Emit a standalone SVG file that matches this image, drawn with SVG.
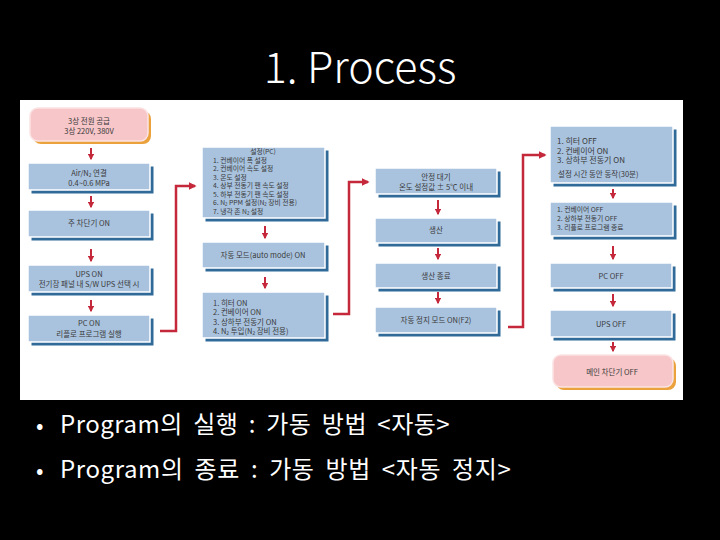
<svg xmlns="http://www.w3.org/2000/svg" width="720" height="540" viewBox="0 0 720 540">
<style>
.bx{fill:#a9c3df;stroke:#ffffff;stroke-width:1.5}
.sh{fill:#2f6a99}
.pk{fill:#f7c6c9;stroke:#fbe3e4;stroke-width:1.5}
.psh{fill:#eba23c}
.t{font-family:"Noto Sans CJK KR","Noto Sans",sans-serif;font-size:7.5px;fill:#3a3a3a}
.s{font-size:6.8px}
.c{text-anchor:middle}
.t2{font-family:"Noto Sans CJK KR","Noto Sans",sans-serif;font-size:8px;fill:#3a3a3a}
.ar{stroke:#c4283a;stroke-width:2;fill:none}
.rl{stroke:#c4283a;stroke-width:2.5;fill:none}
.big{font-family:"Noto Sans CJK KR","Noto Sans",sans-serif;fill:#ffffff}
</style>
<defs>
<marker id="ah" viewBox="0 0 10 10" refX="8" refY="5" markerWidth="3.2" markerHeight="3.2" orient="auto" markerUnits="strokeWidth">
<path d="M0,0 L10,5 L0,10 z" fill="#c4283a"/>
</marker>
</defs>
<rect x="0" y="0" width="720" height="540" fill="#000000"/>
<text class="big" x="360" y="83" font-size="43" font-weight="300" text-anchor="middle">1. Process</text>
<rect x="20" y="100" width="663" height="300" fill="#ffffff"/>

<g id="n1"><rect class="psh" x="33" y="111" width="118" height="33" rx="8"/><rect class="pk" x="30" y="108" width="118" height="33" rx="8"/>
<text class="t c" x="89" y="123.5">3상 전원 공급</text><text class="t c" x="89" y="134">3상 220V, 380V</text></g>
<g id="n2"><rect class="sh" x="31.5" y="166.5" width="122" height="27"/><rect class="bx" x="28" y="163" width="122" height="27"/>
<text class="t c" x="89" y="176">Air/N₂ 연결</text><text class="t c" x="89" y="186">0.4~0.6 MPa</text></g>
<g id="n3"><rect class="sh" x="31.5" y="213.5" width="122" height="27"/><rect class="bx" x="28" y="210" width="122" height="27"/>
<text class="t c" x="89" y="226">주 차단기 ON</text></g>
<g id="n4"><rect class="sh" x="31.5" y="268.5" width="122" height="27"/><rect class="bx" x="28" y="265" width="122" height="27"/>
<text class="t c" x="89" y="276.5">UPS ON</text><text class="t c" x="89" y="287">전기장 패널 내 S/W UPS 선택 시</text></g>
<g id="n5"><rect class="sh" x="31.5" y="318.5" width="122" height="27"/><rect class="bx" x="28" y="315" width="122" height="27"/>
<text class="t c" x="89" y="325.5">PC ON</text><text class="t c" x="89" y="336.5">리플로 프로그램 실행</text></g>

<g id="n6"><rect class="sh" x="205.5" y="150.5" width="123" height="71"/><rect class="bx" x="202" y="147" width="123" height="71"/>
<text class="t s c" x="263" y="154">설정(PC)</text>
<text class="t s" x="213" y="162.5">1. 컨베이어 폭 설정</text>
<text class="t s" x="213" y="171">2. 컨베이어 속도 설정</text>
<text class="t s" x="213" y="179.5">3. 온도 설정</text>
<text class="t s" x="213" y="188">4. 상부 전동기 팬 속도 설정</text>
<text class="t s" x="213" y="196.5">5. 하부 전동기 팬 속도 설정</text>
<text class="t s" x="213" y="205">6. N₂ PPM 설정(N₂ 장비 전용)</text>
<text class="t s" x="213" y="213.5">7. 냉각 존 N₂ 설정</text></g>
<g id="n7"><rect class="sh" x="205.5" y="245.5" width="123" height="26"/><rect class="bx" x="202" y="242" width="123" height="26"/>
<text class="t c" x="263" y="258">자동 모드(auto mode) ON</text></g>
<g id="n8"><rect class="sh" x="205.5" y="295.5" width="123" height="46"/><rect class="bx" x="202" y="292" width="123" height="46"/>
<text class="t" x="213" y="305.5">1. 히터 ON</text>
<text class="t" x="213" y="315">2. 컨베이어 ON</text>
<text class="t" x="213" y="324.5">3. 상하부 전동기 ON</text>
<text class="t" x="213" y="334">4. N₂ 투입(N₂ 장비 전용)</text></g>

<g id="n9"><rect class="sh" x="378.5" y="171.5" width="122" height="26"/><rect class="bx" x="375" y="168" width="122" height="26"/>
<text class="t c" x="436" y="179.5">안정 대기</text><text class="t c" x="436" y="189.5">온도 설정값 ± 5℃ 이내</text></g>
<g id="n10"><rect class="sh" x="378.5" y="221.5" width="122" height="25"/><rect class="bx" x="375" y="218" width="122" height="25"/>
<text class="t c" x="436" y="233">생산</text></g>
<g id="n11"><rect class="sh" x="378.5" y="266.5" width="122" height="25"/><rect class="bx" x="375" y="263" width="122" height="25"/>
<text class="t c" x="436" y="278.5">생산 종료</text></g>
<g id="n12"><rect class="sh" x="378.5" y="310.5" width="122" height="26"/><rect class="bx" x="375" y="307" width="122" height="26"/>
<text class="t c" x="436" y="323">자동 정지 모드 ON(F2)</text></g>

<g id="n13"><rect class="sh" x="553.5" y="129.5" width="123" height="57"/><rect class="bx" x="550" y="126" width="123" height="57"/>
<text class="t2" x="557" y="144">1. 히터 OFF</text>
<text class="t2" x="557" y="153.5">2. 컨베이어 ON</text>
<text class="t2" x="557" y="163">3. 상하부 전동기 ON</text>
<text class="t" x="558" y="176.5">설정 시간 동안 동작(30분)</text></g>
<g id="n14"><rect class="sh" x="553.5" y="205.5" width="123" height="34"/><rect class="bx" x="550" y="202" width="123" height="34"/>
<text class="t s" x="557" y="211.5">1. 컨베이어 OFF</text>
<text class="t s" x="557" y="220.5">2. 상하부 전동기 OFF</text>
<text class="t s" x="557" y="229.5">3. 리플로 프로그램 종료</text></g>
<g id="n15"><rect class="sh" x="553.5" y="266.5" width="122" height="25"/><rect class="bx" x="550" y="263" width="122" height="25"/>
<text class="t c" x="611" y="279">PC OFF</text></g>
<g id="n16"><rect class="sh" x="553.5" y="313.5" width="122" height="27"/><rect class="bx" x="550" y="310" width="122" height="27"/>
<text class="t c" x="611" y="327">UPS OFF</text></g>
<g id="n17"><rect class="psh" x="556" y="358" width="120" height="32" rx="8"/><rect class="pk" x="553" y="355" width="120" height="32" rx="8"/>
<text class="t c" x="612" y="375">메인 차단기 OFF</text></g>

<g id="connectors">
<line class="ar" x1="91" y1="148" x2="91" y2="159" marker-end="url(#ah)"/>
<line class="ar" x1="91" y1="196" x2="91" y2="207" marker-end="url(#ah)"/>
<line class="ar" x1="91" y1="249" x2="91" y2="261" marker-end="url(#ah)"/>
<line class="ar" x1="91" y1="300" x2="91" y2="311" marker-end="url(#ah)"/>
<line class="ar" x1="265" y1="226" x2="265" y2="238" marker-end="url(#ah)"/>
<line class="ar" x1="265" y1="277" x2="265" y2="288" marker-end="url(#ah)"/>
<line class="ar" x1="438" y1="200" x2="438" y2="214" marker-end="url(#ah)"/>
<line class="ar" x1="438" y1="248" x2="438" y2="259" marker-end="url(#ah)"/>
<line class="ar" x1="438" y1="292" x2="438" y2="303" marker-end="url(#ah)"/>
<line class="ar" x1="613" y1="189" x2="613" y2="198" marker-end="url(#ah)"/>
<line class="ar" x1="613" y1="246" x2="613" y2="259" marker-end="url(#ah)"/>
<line class="ar" x1="613" y1="294" x2="613" y2="306" marker-end="url(#ah)"/>
<line class="ar" x1="613" y1="342" x2="613" y2="351" marker-end="url(#ah)"/>
<polyline class="rl" points="160,331 176,331 176,186 195,186" marker-end="url(#ah)"/>
<polyline class="rl" points="333,314 349,314 349,182 368,182" marker-end="url(#ah)"/>
<polyline class="rl" points="508,327 523,327 523,155 545,155" marker-end="url(#ah)"/>
</g>

<text class="big" x="36" y="433" font-size="22">•</text>
<text class="big" x="60" y="433" font-size="24" letter-spacing="0.5" word-spacing="4.5">Program의 실행 : 가동 방법 &lt;자동&gt;</text>
<text class="big" x="36" y="478" font-size="22">•</text>
<text class="big" x="60" y="478" font-size="24" letter-spacing="0.6" word-spacing="5">Program의 종료 : 가동 방법 &lt;자동 정지&gt;</text>
</svg>
